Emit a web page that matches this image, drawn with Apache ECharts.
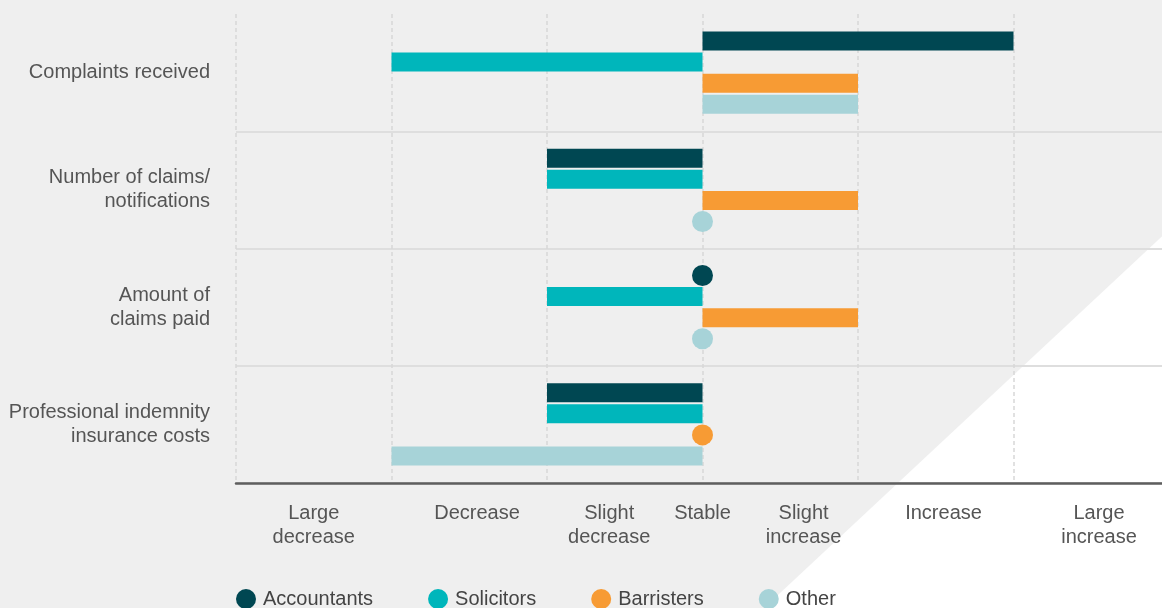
<!DOCTYPE html>
<html>
<head>
<meta charset="utf-8">
<script src="https://cdn.jsdelivr.net/npm/echarts@6/dist/echarts.min.js"></script>
<style>
html,body{margin:0;padding:0;background:#efefef;overflow:hidden;width:1162px;height:608px;}
#chart{width:1172px;height:608px;}
</style>
</head>
<body>
<div id="chart"></div>
<script>
// ----- data -----
const categories = ['Complaints received', 'Number of claims/\nnotifications', 'Amount of\nclaims paid', 'Professional indemnity\ninsurance costs'];
const seriesNames = ['Accountants', 'Solicitors', 'Barristers', 'Other'];
const accountants = [2, -1, 0, -1];
const solicitors = [-2, -1, -1, -1];
const barristers = [1, 1, 1, 0];
const other = [1, 0, 0, -2];
const tickLabels = ['Large\ndecrease', 'Decrease', 'Slight\ndecrease', 'Stable', 'Slight\nincrease', 'Increase', 'Large\nincrease'];
const tickLabelValues = [-2.5, -1.45, -0.6, 0, 0.65, 1.55, 2.55];

const colors = ['#004752', '#00b6bb', '#f79b34', '#a7d3d8'];
const bg = '#efefef';
const font = '"Liberation Sans", Arial, sans-serif';

const labelMap = {};
tickLabelValues.forEach((v, i) => { labelMap[Math.round(v * 100)] = tickLabels[i]; });

function buildSeries(name, values, color) {
  return {
    name: name,
    type: 'bar',
    xAxisIndex: 0,
    barWidth: 19,
    barGap: '11%',
    itemStyle: { color: color },
    data: values.map(v => v === 0 ? {
      value: 0,
      label: {
        show: true,
        position: 'inside',
        formatter: '{d|}',
        rich: { d: { width: 21, height: 21, borderRadius: 10.5, backgroundColor: color } }
      }
    } : v)
  };
}

const chart = echarts.init(document.getElementById('chart'), null, { renderer: 'canvas' });
chart.setOption({
  backgroundColor: bg,
  animation: false,
  textStyle: { fontFamily: font },
  graphic: [{
    type: 'polygon',
    z: -100,
    silent: true,
    shape: { points: [[1172, 227], [1172, 608], [764, 608]] },
    style: { fill: '#ffffff' }
  }],
  grid: { left: 236, top: 14, right: 0, bottom: 125, containLabel: false },
  legend: {
    left: 236,
    top: 589,
    padding: 0,
    icon: 'circle',
    itemWidth: 20,
    itemHeight: 20,
    itemGap: 55,
    textStyle: { fontSize: 20, color: '#444', fontFamily: font, padding: [0, 0, 0, 2] },
    data: seriesNames
  },
  xAxis: [{
    type: 'value',
    min: -3,
    max: 3,
    interval: 1,
    axisLine: { show: true, onZero: false, lineStyle: { color: '#5e5e5e', width: 2.5 } },
    axisTick: { show: false },
    axisLabel: { show: false },
    splitLine: { show: true, lineStyle: { color: '#d8d8d8', type: [4, 3], width: 1.5 } }
  }, {
    type: 'value',
    position: 'bottom',
    min: -3,
    max: 3,
    interval: 0.05,
    axisLine: { show: false },
    axisTick: { show: false },
    splitLine: { show: false },
    axisLabel: {
      show: true,
      margin: 18,
      fontSize: 20,
      lineHeight: 24,
      color: '#555',
      fontFamily: font,
      align: 'center',
      verticalAlign: 'top',
      formatter: function (v) { return labelMap[Math.round(v * 100)] || ''; }
    }
  }],
  yAxis: {
    type: 'category',
    inverse: true,
    data: categories,
    axisLine: { show: false },
    axisTick: { show: false },
    axisLabel: { margin: 26, fontSize: 20, lineHeight: 24, color: '#555', fontFamily: font, align: 'right' },
    splitLine: { show: true, lineStyle: { color: [bg, '#dedede', '#dedede', '#dedede', '#dedede'], width: 2 } }
  },
  series: [
    buildSeries(seriesNames[0], accountants, colors[0]),
    buildSeries(seriesNames[1], solicitors, colors[1]),
    buildSeries(seriesNames[2], barristers, colors[2]),
    buildSeries(seriesNames[3], other, colors[3])
  ]
});
</script>
</body>
</html>
